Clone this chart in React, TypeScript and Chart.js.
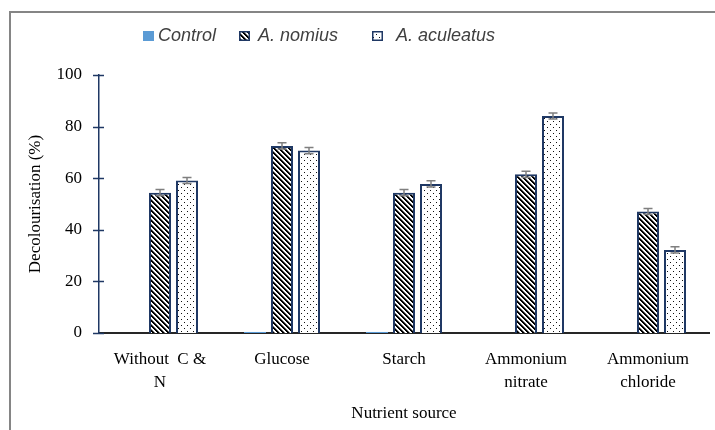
import React, { useEffect, useRef } from "react";
import { Chart, registerables } from "chart.js";

Chart.register(...registerables);

const categories: (string | string[])[] = [
  ["Without  C &", "N"],
  "Glucose",
  "Starch",
  ["Ammonium", "nitrate"],
  ["Ammonium", "chloride"],
];
const seriesNames = ["Control", "A. nomius", "A. aculeatus"];
const controlValues = [0, 0.4, 0.4, 0, 0];
const nomiusValues = [54.4, 72.5, 54.4, 61.5, 47.1];
const aculeatusValues = [59.1, 70.7, 57.8, 84.1, 32.2];
const nomiusErrors = [1.2, 1.2, 1.2, 1.2, 1.2];
const aculeatusErrors = [1.2, 1.2, 1.2, 1.2, 1.2];
const yMin = 0;
const yMax = 100;
const yStep = 20;
const xTitle = "Nutrient source";
const yTitle = "Decolourisation (%)";

const NAVY = "#1F3864";
const BLUE = "#5B9BD5";
const SERIF = "'Liberation Serif', 'Times New Roman', serif";
const SANS = "'Liberation Sans', Arial, sans-serif";

function makeStripe(): CanvasPattern | string {
  const c = document.createElement("canvas");
  const p = 5;
  c.width = p;
  c.height = p;
  const ctx = c.getContext("2d");
  if (!ctx) return "#000";
  const img = ctx.createImageData(p, p);
  for (let y = 0; y < p; y++) {
    for (let x = 0; x < p; x++) {
      const d = (((x - y) % p) + p) % p;
      const v = d < 2 ? 0 : d === 2 ? 120 : 255;
      const i = (y * p + x) * 4;
      img.data[i] = v;
      img.data[i + 1] = v;
      img.data[i + 2] = v;
      img.data[i + 3] = 255;
    }
  }
  ctx.putImageData(img, 0, 0);
  return ctx.createPattern(c, "repeat") || "#000";
}

function makeDots(): CanvasPattern | string {
  const c = document.createElement("canvas");
  const p = 6;
  c.width = p;
  c.height = p;
  const ctx = c.getContext("2d");
  if (!ctx) return "#fff";
  ctx.fillStyle = "#fff";
  ctx.fillRect(0, 0, p, p);
  ctx.fillStyle = "#111";
  ctx.fillRect(1, 1, 1, 1);
  ctx.fillRect(4, 4, 1, 1);
  return ctx.createPattern(c, "repeat") || "#fff";
}

export default function App() {
  const ref = useRef<HTMLCanvasElement | null>(null);

  useEffect(() => {
    if (!ref.current) return;
    const stripe = makeStripe();
    const dots = makeDots();
    const errorsByDataset: Record<number, number[]> = { 1: nomiusErrors, 2: aculeatusErrors };

    const framePlugin = {
      id: "frame",
      beforeDraw(chart: any) {
        const ctx = chart.ctx;
        ctx.save();
        ctx.fillStyle = "#fff";
        ctx.fillRect(0, 0, chart.width, chart.height);
        ctx.restore();
      },
      afterDraw(chart: any) {
        const ctx = chart.ctx;
        ctx.save();
        // outer frame
        ctx.strokeStyle = "#858585";
        ctx.lineWidth = 2;
        ctx.beginPath();
        ctx.moveTo(10, chart.height);
        ctx.lineTo(10, 12);
        ctx.lineTo(chart.width, 12);
        ctx.stroke();

        // y tick marks crossing the axis
        const ys = chart.scales.y;
        const xl = chart.chartArea.left;
        ctx.strokeStyle = NAVY;
        ctx.lineWidth = 1.5;
        for (let v = yMin; v <= yMax; v += yStep) {
          const py = Math.round(ys.getPixelForValue(v)) + 0.5;
          ctx.beginPath();
          ctx.moveTo(xl - 6, py);
          ctx.lineTo(xl + 5, py);
          ctx.stroke();
        }

        // legend
        const cy = 36;
        const items = [
          { box: 143, text: 158, fill: BLUE, border: null as string | null },
          { box: 239, text: 258, fill: stripe, border: NAVY },
          { box: 372, text: 396, fill: dots, border: NAVY },
        ];
        items.forEach((it, i) => {
          ctx.fillStyle = it.fill as any;
          ctx.fillRect(it.box, cy - 5, 11, 10);
          if (it.border) {
            ctx.strokeStyle = it.border;
            ctx.lineWidth = 1.5;
            ctx.strokeRect(it.box + 0.75, cy - 4.25, 9.5, 8.5);
          }
          ctx.fillStyle = "#404040";
          ctx.font = `italic 18px ${SANS}`;
          ctx.textAlign = "left";
          ctx.textBaseline = "middle";
          ctx.fillText(seriesNames[i], it.text, cy);
        });
        ctx.restore();
      },
      afterDatasetsDraw(chart: any) {
        const ctx = chart.ctx;
        const ys = chart.scales.y;
        ctx.save();
        ctx.strokeStyle = "#7F7F7F";
        ctx.lineWidth = 1.5;
        [1, 2].forEach((di) => {
          const meta = chart.getDatasetMeta(di);
          const vals = chart.data.datasets[di].data as number[];
          const errs = errorsByDataset[di];
          meta.data.forEach((el: any, i: number) => {
            const v = vals[i];
            const e = errs[i];
            const yTop = ys.getPixelForValue(v + e);
            const yBot = ys.getPixelForValue(v - e);
            const x = el.x;
            ctx.beginPath();
            ctx.moveTo(x, yTop);
            ctx.lineTo(x, yBot);
            ctx.moveTo(x - 4.5, yTop);
            ctx.lineTo(x + 4.5, yTop);
            ctx.moveTo(x - 4.5, yBot);
            ctx.lineTo(x + 4.5, yBot);
            ctx.stroke();
          });
        });
        ctx.restore();
      },
    };

    const chart = new Chart(ref.current, {
      type: "bar",
      data: {
        labels: categories as any,
        datasets: [
          {
            label: seriesNames[0],
            data: controlValues,
            backgroundColor: BLUE,
            borderWidth: 0,
          },
          {
            label: seriesNames[1],
            data: nomiusValues,
            backgroundColor: stripe as any,
            borderColor: NAVY,
            borderWidth: 2,
          },
          {
            label: seriesNames[2],
            data: aculeatusValues,
            backgroundColor: dots as any,
            borderColor: NAVY,
            borderWidth: 2,
          },
        ],
      },
      options: {
        responsive: false,
        animation: false,
        datasets: {
          bar: {
            categoryPercentage: 0.664,
            barPercentage: 0.815,
          },
        },
        layout: { padding: { top: 75, right: 6, left: 0, bottom: 0 } },
        plugins: {
          legend: { display: false },
          tooltip: { enabled: false },
        },
        scales: {
          x: {
            grid: { display: false, drawTicks: false },
            border: { display: true, color: "#262626", width: 2 },
            ticks: {
              color: "#000",
              font: { family: SERIF, size: 17, lineHeight: 1.35 },
              padding: 15,
              maxRotation: 0,
              autoSkip: false,
            },
            title: {
              display: true,
              text: xTitle,
              color: "#000",
              font: { family: SERIF, size: 17 },
              padding: { top: 0, bottom: 6 },
            },
            afterFit(scale: any) {
              scale.height = 97;
            },
          },
          y: {
            min: yMin,
            max: yMax,
            grid: { display: false, drawTicks: false },
            border: { display: true, color: NAVY, width: 1.5 },
            ticks: {
              stepSize: yStep,
              color: "#000",
              font: { family: SERIF, size: 17 },
              padding: 17,
            },
            title: {
              display: true,
              text: yTitle,
              color: "#000",
              font: { family: SERIF, size: 17 },
              padding: { top: 25, bottom: 0 },
            },
            afterFit(scale: any) {
              scale.width = 99;
            },
          },
        },
      },
      plugins: [framePlugin],
    });

    return () => chart.destroy();
  }, []);

  return (
    <div style={{ position: "fixed", left: 0, top: 0, width: 715, height: 430, background: "#fff" }}>
      <canvas ref={ref} width={715} height={430} style={{ display: "block" }} />
    </div>
  );
}
